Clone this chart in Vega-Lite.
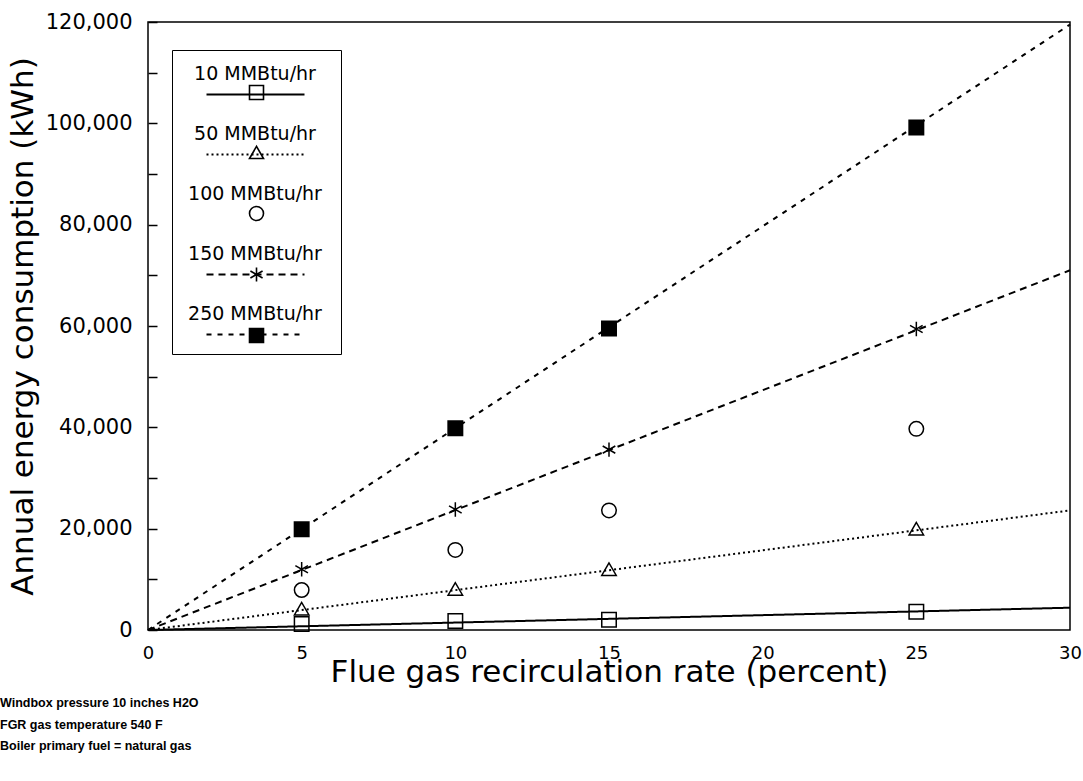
{
  "$schema": "https://vega.github.io/schema/vega-lite/v6.json",
  "width": 922,
  "height": 608,
  "autosize": {"type": "none"},
  "padding": {"left": 148, "top": 22, "right": 13, "bottom": 151},
  "background": "white",
  "config": {
    "view": {"stroke": "black", "strokeWidth": 1.5},
    "font": "DejaVu Sans"
  },
  "title": {
    "text": ["Windbox pressure 10 inches H2O", "FGR gas temperature 540 F", "Boiler primary fuel = natural gas"],
    "orient": "bottom",
    "anchor": "start",
    "frame": "group",
    "dx": -148,
    "offset": 10,
    "font": "Liberation Sans",
    "fontSize": 12.5,
    "fontWeight": "bold",
    "lineHeight": 21.5,
    "color": "black",
    "baseline": "top"
  },
  "datasets": {
    "fits": [
      {"series": "10 MMBtu/hr", "rate": 0, "kwh": 0},
      {"series": "10 MMBtu/hr", "rate": 30, "kwh": 4400},
      {"series": "50 MMBtu/hr", "rate": 0, "kwh": 0},
      {"series": "50 MMBtu/hr", "rate": 30, "kwh": 23600},
      {"series": "150 MMBtu/hr", "rate": 0, "kwh": 0},
      {"series": "150 MMBtu/hr", "rate": 30, "kwh": 71000},
      {"series": "250 MMBtu/hr", "rate": 0, "kwh": 0},
      {"series": "250 MMBtu/hr", "rate": 30, "kwh": 119500}
    ],
    "points": [
      {"load": 10, "name": "10 MMBtu/hr", "rate": 5, "kwh": 1200},
      {"load": 10, "name": "10 MMBtu/hr", "rate": 10, "kwh": 1800},
      {"load": 10, "name": "10 MMBtu/hr", "rate": 15, "kwh": 2000},
      {"load": 10, "name": "10 MMBtu/hr", "rate": 25, "kwh": 3600},
      {"load": 50, "name": "50 MMBtu/hr", "rate": 5, "kwh": 4200},
      {"load": 50, "name": "50 MMBtu/hr", "rate": 10, "kwh": 8100},
      {"load": 50, "name": "50 MMBtu/hr", "rate": 15, "kwh": 12000},
      {"load": 50, "name": "50 MMBtu/hr", "rate": 25, "kwh": 20000},
      {"load": 100, "name": "100 MMBtu/hr", "rate": 5, "kwh": 7900},
      {"load": 100, "name": "100 MMBtu/hr", "rate": 10, "kwh": 15800},
      {"load": 100, "name": "100 MMBtu/hr", "rate": 15, "kwh": 23600},
      {"load": 100, "name": "100 MMBtu/hr", "rate": 25, "kwh": 39700},
      {"load": 150, "name": "150 MMBtu/hr", "rate": 5, "kwh": 12000},
      {"load": 150, "name": "150 MMBtu/hr", "rate": 10, "kwh": 23800},
      {"load": 150, "name": "150 MMBtu/hr", "rate": 15, "kwh": 35600},
      {"load": 150, "name": "150 MMBtu/hr", "rate": 25, "kwh": 59400},
      {"load": 250, "name": "250 MMBtu/hr", "rate": 5, "kwh": 19900},
      {"load": 250, "name": "250 MMBtu/hr", "rate": 10, "kwh": 39800},
      {"load": 250, "name": "250 MMBtu/hr", "rate": 15, "kwh": 59500},
      {"load": 250, "name": "250 MMBtu/hr", "rate": 25, "kwh": 99200}
    ]
  },
  "layer": [
    {
      "data": {"name": "fits"},
      "mark": {"type": "line", "color": "black", "strokeCap": "butt"},
      "encoding": {
        "x": {
          "field": "rate",
          "type": "quantitative",
          "scale": {"domain": [0, 30], "nice": false},
          "axis": {
            "values": [0, 5, 10, 15, 20, 25, 30],
            "ticks": false,
            "domain": false,
            "grid": false,
            "labelFlush": false,
            "labelPadding": 14,
            "labelFont": "DejaVu Sans",
            "labelFontSize": 18,
            "labelColor": "black",
            "title": "Flue gas recirculation rate (percent)",
            "titleFont": "DejaVu Sans",
            "titleFontSize": 31,
            "titleFontWeight": "normal",
            "titleColor": "black",
            "titlePadding": -5
          }
        },
        "y": {
          "field": "kwh",
          "type": "quantitative",
          "scale": {"domain": [0, 120000], "nice": false},
          "axis": {
            "values": [0, 10000, 20000, 30000, 40000, 50000, 60000, 70000, 80000, 90000, 100000, 110000, 120000],
            "labelExpr": "datum.value % 20000 == 0 ? format(datum.value, ',') : ''",
            "tickSize": -9,
            "tickWidth": 1.5,
            "tickColor": "black",
            "domain": false,
            "grid": false,
            "labelFlush": false,
            "labelOverlap": false,
            "labelPadding": 25,
            "labelFont": "DejaVu Sans",
            "labelFontSize": 21,
            "labelColor": "black",
            "title": "Annual energy consumption (kWh)",
            "titleFont": "DejaVu Sans",
            "titleFontSize": 31,
            "titleFontWeight": "normal",
            "titleColor": "black",
            "titlePadding": 6
          }
        },
        "strokeDash": {
          "field": "series",
          "type": "nominal",
          "scale": {
            "domain": ["10 MMBtu/hr", "50 MMBtu/hr", "100 MMBtu/hr", "150 MMBtu/hr", "250 MMBtu/hr"],
            "range": [[1, 0], [2, 3], [0, 200], [7, 5], [5, 6]]
          },
          "legend": {
            "title": "\u00a0",
            "titleFontSize": 16,
            "titlePadding": 10,
            "orient": "none",
            "legendX": 24,
            "legendY": 28,
            "padding": 9,
            "rowPadding": 40,
            "strokeColor": "black",
            "symbolType": "M-7,0H7",
            "symbolSize": 196,
            "symbolOffset": 65,
            "symbolStrokeColor": "black",
            "symbolStrokeWidth": 1.6,
            "labelFont": "DejaVu Sans",
            "labelFontSize": 19,
            "labelOpacity": 0,
            "labelAlign": "left",
            "labelOffset": -67,
            "labelLimit": 400
          }
        },
        "strokeWidth": {
          "field": "series",
          "type": "nominal",
          "scale": {
            "domain": ["10 MMBtu/hr", "50 MMBtu/hr", "100 MMBtu/hr", "150 MMBtu/hr", "250 MMBtu/hr"],
            "range": [2, 2, 1, 2.2, 1.6]
          },
          "legend": null
        }
      }
    },
    {
      "data": {"name": "points"},
      "mark": {"type": "point", "filled": false, "stroke": "black", "strokeWidth": 1.5, "size": 210},
      "encoding": {
        "x": {"field": "rate", "type": "quantitative"},
        "y": {"field": "kwh", "type": "quantitative"},
        "shape": {
          "field": "load",
          "type": "nominal",
          "scale": {
            "domain": [10, 50, 100, 150, 250],
            "range": [
              "square",
              "triangle-up",
              "circle",
              "M0,-1V1M-0.87,-0.5L0.87,0.5M-0.87,0.5L0.87,-0.5",
              "M-1,-1H1V1H-1ZM-0.8,-0.8H0.8V0.8H-0.8ZM-0.6,-0.6H0.6V0.6H-0.6ZM-0.4,-0.4H0.4V0.4H-0.4ZM-0.2,-0.2H0.2V0.2H-0.2ZM-0.05,-0.05H0.05V0.05H-0.05Z"
            ]
          },
          "legend": {
            "title": null,
            "orient": "none",
            "legendX": 99,
            "legendY": 61,
            "padding": 0,
            "rowPadding": 40,
            "symbolSize": 196,
            "symbolFillColor": "transparent",
            "symbolStrokeColor": "black",
            "symbolStrokeWidth": 1.6,
            "symbolOpacity": 1,
            "labelExpr": "datum.label + ' MMBtu/hr'",
            "labelFont": "DejaVu Sans",
            "labelFontSize": 19,
            "labelOpacity": 0,
            "labelAlign": "left",
            "labelOffset": -73,
            "labelLimit": 400
          }
        },
        "opacity": {
          "field": "name",
          "type": "ordinal",
          "sort": {"field": "load", "op": "min"},
          "scale": {"range": [1, 1, 1, 1, 1]},
          "legend": {
            "title": null,
            "orient": "none",
            "legendX": 43,
            "legendY": 42,
            "padding": 0,
            "rowPadding": 40,
            "symbolType": "M0,0",
            "symbolSize": 196,
            "symbolStrokeWidth": 1.6,
            "symbolOpacity": 0,
            "labelFont": "DejaVu Sans",
            "labelFontSize": 19,
            "labelColor": "black",
            "labelAlign": "center",
            "labelOffset": 45,
            "labelLimit": 400
          }
        }
      }
    }
  ]
}
